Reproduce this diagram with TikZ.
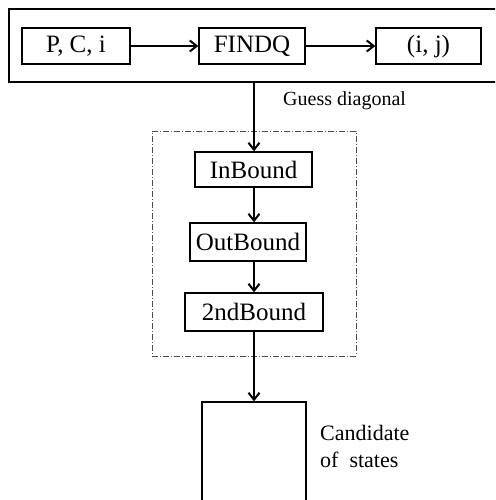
\documentclass[tikz,border=0pt]{standalone}
\usepackage{fontspec}
\setmainfont{Liberation Serif}
\usetikzlibrary{arrows.meta}
\tikzset{
  blk/.style={draw, line width=1.3pt, inner sep=0pt, font=\fontsize{25}{30}\selectfont},
  flow/.style={line width=2pt, -{Straight Barb[length=7pt,width=11pt,line width=2pt]}},
  group/.style={draw=black!70, line width=0.9pt, dash pattern=on 6pt off 2pt on 1pt off 2pt},
  lbl/.style={font=\fontsize{20}{24}\selectfont, inner sep=0pt},
}
\begin{document}
\begin{tikzpicture}[x=1pt,y=-1pt]
  \useasboundingbox (0,0) rectangle (495,500);
  \clip (0,0) rectangle (495,500);
  \fill[white] (0,0) rectangle (495,500);

  % top stage: query search
  \node[draw, line width=1.6pt, minimum width=496pt, minimum height=73pt, inner sep=0pt] (outer) at (257,45.5) {};
  \node[blk, minimum width=108pt, minimum height=36pt] (pci) at (76,46) {P, C, i};
  \node[blk, minimum width=106pt, minimum height=36pt] (findq) at (252,46) {FINDQ};
  \node[blk, minimum width=105pt, minimum height=36pt] (ij) at (428.5,46) {(i, j)};
  \draw[flow] (pci) -- (findq);
  \draw[flow] (findq) -- (ij);

  % bounding stages
  \node[group, minimum width=204pt, minimum height=225pt, inner sep=0pt] (grp) at (254,243.5) {};
  \node[blk, minimum width=117pt, minimum height=35pt] (inb) at (253.5,169.5) {InBound};
  \node[blk, minimum width=116pt, minimum height=38pt] (outb) at (248,242) {OutBound};
  \node[blk, minimum width=138pt, minimum height=38pt] (snd) at (254,312) {2ndBound};

  % candidate states
  \node[draw, line width=1.3pt, minimum width=104pt, minimum height=120pt, inner sep=0pt] (cand) at (254,462) {};

  \coordinate (top) at (254,82);
  \draw[flow] (top) -- (top |- inb.north);
  \draw[flow] (inb.south -| top) -- (outb.north -| top);
  \draw[flow] (outb.south -| top) -- (snd.north -| top);
  \draw[flow] (snd.south -| top) -- (cand.north -| top);

  \node[lbl, anchor=west] (guess) at (283,101) {Guess diagonal};
  \node[lbl, anchor=north west, align=left, font=\fontsize{22}{27}\selectfont] (candlbl) at (320,425) {Candidate\\of\ \ states};
\end{tikzpicture}
\end{document}
